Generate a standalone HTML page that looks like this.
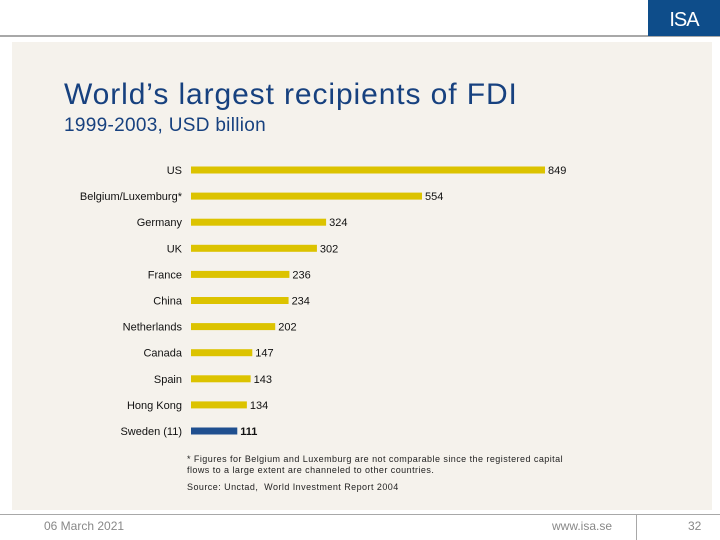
<!DOCTYPE html>
<html><head><meta charset="utf-8"><style>
body{margin:0;width:720px;height:540px;background:#fff;position:relative;overflow:hidden;font-family:"Liberation Sans",sans-serif}
.abs{position:absolute}
</style></head><body>
<div class="abs" style="left:0;top:35px;width:720px;height:2px;background:#a8a8a8"></div>
<div class="abs" style="left:648px;top:0;width:72px;height:36px;background:#0e4d8a;color:#fff;font-size:20px;line-height:40px;text-align:center;letter-spacing:-1px">ISA</div>
<div class="abs" style="left:12px;top:42px;width:700px;height:468px;background:#f5f2ec"></div>
<div class="abs" style="left:64px;top:78px;font-size:30px;letter-spacing:0.9px;color:#17417f">World’s largest recipients of FDI</div>
<div class="abs" style="left:64px;top:115px;font-size:19px;letter-spacing:0.3px;color:#17417f">1999-2003, USD billion</div>
<svg class="abs" style="left:0;top:0" width="720" height="540" id="chart"></svg>
<div class="abs" style="left:187px;top:454px;font-size:9px;line-height:11px;letter-spacing:0.45px;color:#222">* Figures for Belgium and Luxemburg are not comparable since the registered capital<br>flows to a large extent are channeled to other countries.</div>
<div class="abs" style="left:187px;top:482px;font-size:9px;letter-spacing:0.45px;color:#222">Source: Unctad,&nbsp; World Investment Report 2004</div>
<div class="abs" style="left:0;top:514px;width:720px;height:1px;background:#a8a8a8"></div>
<div class="abs" style="left:636px;top:515px;width:1px;height:25px;background:#a8a8a8"></div>
<div class="abs" style="left:44px;top:519px;font-size:12px;color:#888">06 March 2021</div>
<div class="abs" style="left:552px;top:519px;font-size:12px;color:#888">www.isa.se</div>
<div class="abs" style="left:688px;top:519px;font-size:12px;color:#888">32</div>
<script>
const categories=["US","Belgium/Luxemburg*","Germany","UK","France","China","Netherlands","Canada","Spain","Hong Kong","Sweden (11)"];
const values=[849,554,324,302,236,234,202,147,143,134,111];
const highlight=[false,false,false,false,false,false,false,false,false,false,true];
const svg=document.getElementById('chart');
const NS='http://www.w3.org/2000/svg';
const x0=191, scale=354/849;
function xPos(v){return x0+v*scale;}
function yPos(i){return 170+i*26.1;}
categories.forEach((c,i)=>{
  const y=yPos(i);
  const r=document.createElementNS(NS,'rect');
  r.setAttribute('x',x0);r.setAttribute('y',y-3.5);
  r.setAttribute('width',xPos(values[i])-x0);r.setAttribute('height',7);
  r.setAttribute('fill',highlight[i]?'#1f4f8f':'#dcc300');
  
  
  svg.appendChild(r);
  const t=document.createElementNS(NS,'text');
  t.setAttribute('x',182);t.setAttribute('y',y+4);t.setAttribute('text-anchor','end');
  t.setAttribute('font-size','11');t.setAttribute('fill','#111');
  t.setAttribute('font-family','Liberation Sans, sans-serif');
  t.textContent=c;
  
  
  svg.appendChild(t);
  const v=document.createElementNS(NS,'text');
  v.setAttribute('x',xPos(values[i])+3);v.setAttribute('y',y+4);
  v.setAttribute('font-size','11');v.setAttribute('fill','#111');
  v.setAttribute('font-family','Liberation Sans, sans-serif');
  if(highlight[i])v.setAttribute('font-weight','bold');
  v.textContent=values[i];
  
  
  svg.appendChild(v);
});
</script>
</body></html>
